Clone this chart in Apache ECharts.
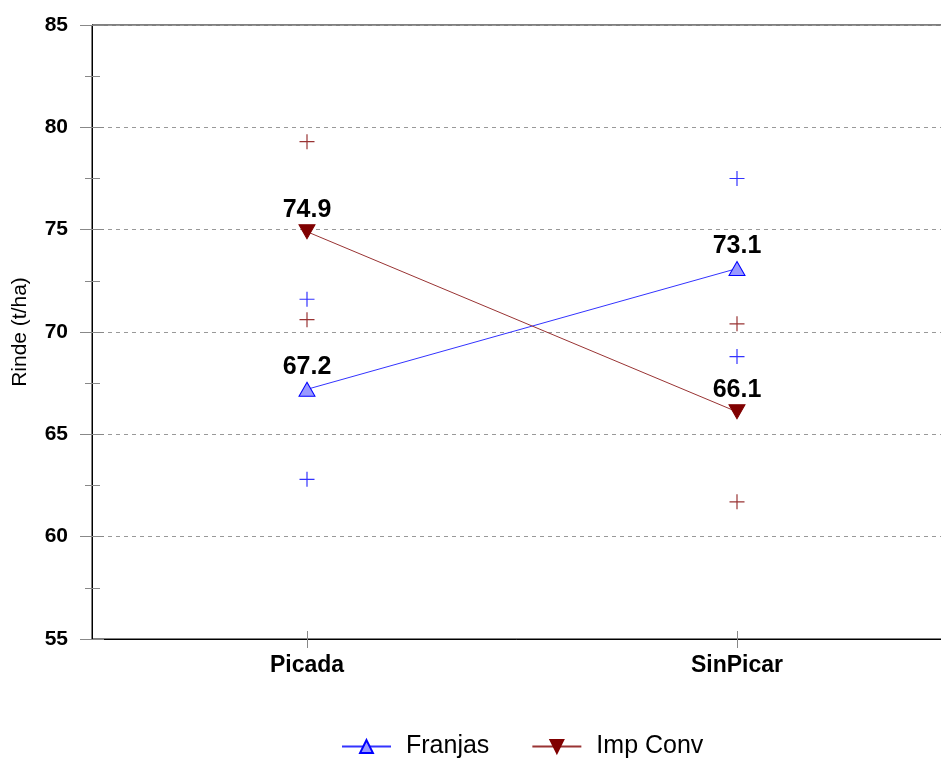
<!DOCTYPE html>
<html>
<head>
<meta charset="utf-8">
<script src="https://cdn.jsdelivr.net/npm/echarts@6/dist/echarts.min.js"></script>
<style>
  html, body { margin: 0; padding: 0; background: #fff; }
  #chart { width: 941px; height: 758px; }
</style>
</head>
<body>
<div id="chart"></div>
<script>
// Categories and yields (t/ha)
var categories = ['Picada', 'SinPicar'];
var franjasMean = [67.2, 73.1];
var impConvMean = [74.9, 66.1];
// Individual replicate observations per treatment
var franjasObs = [['Picada', 71.6], ['Picada', 62.8], ['SinPicar', 77.5], ['SinPicar', 68.8]];
var impConvObs = [['Picada', 79.3], ['Picada', 70.6], ['SinPicar', 70.4], ['SinPicar', 61.7]];
var yTicks = [55, 60, 65, 70, 75, 80, 85];

var FONT = '"Liberation Sans", Arial, sans-serif';
var plusPath = 'path://M0,5 L10,5 M5,0 L5,10';

var chart = echarts.init(document.getElementById('chart'), null, { renderer: 'canvas' });

var yCommon = {
  type: 'value',
  min: yTicks[0],
  max: yTicks[yTicks.length - 1],
  interval: 5
};

var option = {
  backgroundColor: '#ffffff',
  animation: false,
  grid: {
    left: 92, top: 25, width: 860, height: 614,
    outerBoundsMode: 'none',
    containLabel: false,
    show: true, borderColor: '#000', borderWidth: 1, backgroundColor: 'transparent'
  },
  legend: {
    data: ['Franjas', 'Imp Conv'],
    top: 729,
    left: 336,
    itemWidth: 49,
    itemHeight: 16,
    itemGap: 42,
    textStyle: { fontFamily: FONT, fontSize: 25, color: '#000', padding: [0, 0, 0, 10] }
  },
  xAxis: [
    {
      type: 'category',
      data: categories,
      position: 'bottom',
      axisLine: { show: true, lineStyle: { color: '#000', width: 1 } },
      axisTick: { show: true, alignWithLabel: true, length: 9, lineStyle: { color: '#888' } },
      axisLabel: { fontFamily: FONT, fontSize: 23, fontWeight: 'bold', color: '#000', margin: 15 },
      splitLine: { show: false }
    },
    {
      type: 'category',
      data: categories,
      position: 'bottom',
      axisLine: { show: false },
      axisTick: { show: true, inside: true, alignWithLabel: true, length: 8, lineStyle: { color: '#888' } },
      axisLabel: { show: false },
      splitLine: { show: false }
    }
  ],
  yAxis: [
    Object.assign({}, yCommon, {
      name: 'Rinde (t/ha)',
      nameLocation: 'middle',
      nameGap: 61,
      nameTextStyle: { fontFamily: FONT, fontSize: 21, color: '#000' },
      axisLine: { show: true, lineStyle: { color: '#000', width: 1 } },
      axisTick: { show: true, length: 12, lineStyle: { color: '#888' } },
      minorTick: { show: true, splitNumber: 2, length: 7, lineStyle: { color: '#888' } },
      axisLabel: { fontFamily: FONT, fontSize: 21, fontWeight: 'bold', color: '#000', margin: 24 },
      splitLine: { show: true, lineStyle: { color: '#999', type: [4, 4], width: 1 } }
    }),
    Object.assign({}, yCommon, {
      position: 'left',
      axisLine: { show: false },
      axisTick: { show: true, inside: true, length: 12, lineStyle: { color: '#888' } },
      minorTick: { show: true, splitNumber: 2, length: 8, lineStyle: { color: '#888' } },
      axisLabel: { show: false },
      splitLine: { show: false }
    })
  ],
  series: [
    {
      name: 'Franjas',
      type: 'line',
      data: franjasMean,
      symbol: 'triangle',
      symbolSize: [16, 14],
      lineStyle: { color: '#3333ff', width: 1 },
      itemStyle: { color: '#9999ff', borderColor: '#0000ff', borderWidth: 1 },
      label: {
        show: true, position: 'top', distance: 2,
        fontFamily: FONT, fontSize: 25, fontWeight: 'bold', color: '#000',
        formatter: function (p) { return p.value.toFixed(1); }
      },
      z: 5
    },
    {
      name: 'Imp Conv',
      type: 'line',
      data: impConvMean,
      symbol: 'triangle',
      symbolRotate: 180,
      symbolSize: [16, 14],
      lineStyle: { color: '#993333', width: 1 },
      itemStyle: { color: '#800000', borderColor: '#800000', borderWidth: 1 },
      label: {
        show: true, position: 'top', distance: 2,
        fontFamily: FONT, fontSize: 25, fontWeight: 'bold', color: '#000',
        formatter: function (p) { return p.value.toFixed(1); }
      },
      z: 5
    },
    {
      name: 'Franjas obs',
      type: 'scatter',
      data: franjasObs,
      symbol: plusPath,
      symbolSize: 15,
      itemStyle: { color: 'none', borderColor: '#0000ff', borderWidth: 1.2 },
      z: 4
    },
    {
      name: 'Imp Conv obs',
      type: 'scatter',
      data: impConvObs,
      symbol: plusPath,
      symbolSize: 15,
      itemStyle: { color: 'none', borderColor: '#800000', borderWidth: 1.2 },
      z: 4
    }
  ]
};

chart.setOption(option);
</script>
</body>
</html>
